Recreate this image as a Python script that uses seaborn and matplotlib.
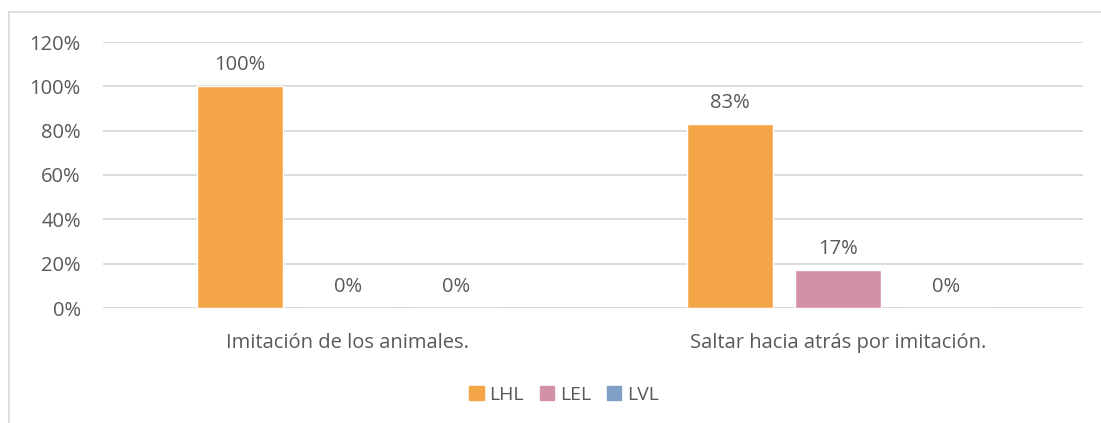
import matplotlib
matplotlib.use("Agg")
import matplotlib.pyplot as plt
import matplotlib.patches as mpatches
import seaborn as sns
import pandas as pd

categories = ["Imitación de los animales.", "Saltar hacia atrás por imitación."]
series = ["LHL", "LEL", "LVL"]
lhl = [1.00, 0.83]
lel = [0.00, 0.17]
lvl = [0.00, 0.00]
yticks = [0, 0.2, 0.4, 0.6, 0.8, 1.0, 1.2]
colors = ["#F4A548", "#D291A8", "#7F9FC4"]

sns.set_theme(style="white")
plt.rcParams["font.family"] = ["Open Sans", "DejaVu Sans"]
text_color = "#595959"
grid_color = "#D9D9D9"
fs = 14.5

df = pd.DataFrame({
    "cat": categories * 3,
    "serie": [s for s in series for _ in categories],
    "val": lhl + lel + lvl,
})

fig = plt.figure(figsize=(11.01, 4.23), dpi=100)
ax = fig.add_axes([103 / 1101, 115 / 423, 980 / 1101, 266 / 423])

sns.barplot(data=df, x="cat", y="val", hue="serie", hue_order=series,
            palette=colors, width=0.661, gap=0.205, saturation=1,
            ax=ax, legend=False)

ax.set_ylim(0, 1.2)
ax.set_xlim(-0.5, 1.5)
ax.set_yticks(yticks)
ax.set_yticklabels([f"{int(round(t * 100))}%" for t in yticks])
ax.yaxis.grid(True, color=grid_color, linewidth=1.3)
ax.set_axisbelow(True)
for s in ax.spines.values():
    s.set_visible(False)
ax.tick_params(axis="both", length=0, colors=text_color, labelsize=fs)
ax.tick_params(axis="y", pad=16)
ax.tick_params(axis="x", pad=18)
ax.set_xlabel("")
ax.set_ylabel("")
ax.axhline(0, color=grid_color, linewidth=1.3, zorder=0)

for cont in ax.containers:
    ax.bar_label(cont, labels=[f"{int(round(v * 100))}%" for v in cont.datavalues],
                 padding=8, color=text_color, fontsize=fs)

handles = [mpatches.Patch(color=c, label=s) for c, s in zip(colors, series)]
fig.legend(handles=handles, loc="center", bbox_to_anchor=(564 / 1101, 1 - 395 / 423),
           ncol=3, frameon=False, handlelength=0.75, handleheight=0.75,
           handletextpad=0.3, columnspacing=0.8, fontsize=14, labelcolor=text_color)

# chart frame
fig.add_artist(plt.Line2D([9 / 1101, 1.0], [1 - 12 / 423, 1 - 12 / 423],
                          transform=fig.transFigure, color=grid_color, linewidth=1.2))
fig.add_artist(plt.Line2D([9 / 1101, 9 / 1101], [0, 1 - 12 / 423],
                          transform=fig.transFigure, color=grid_color, linewidth=1.2))

fig.savefig("out.png", dpi=100)
